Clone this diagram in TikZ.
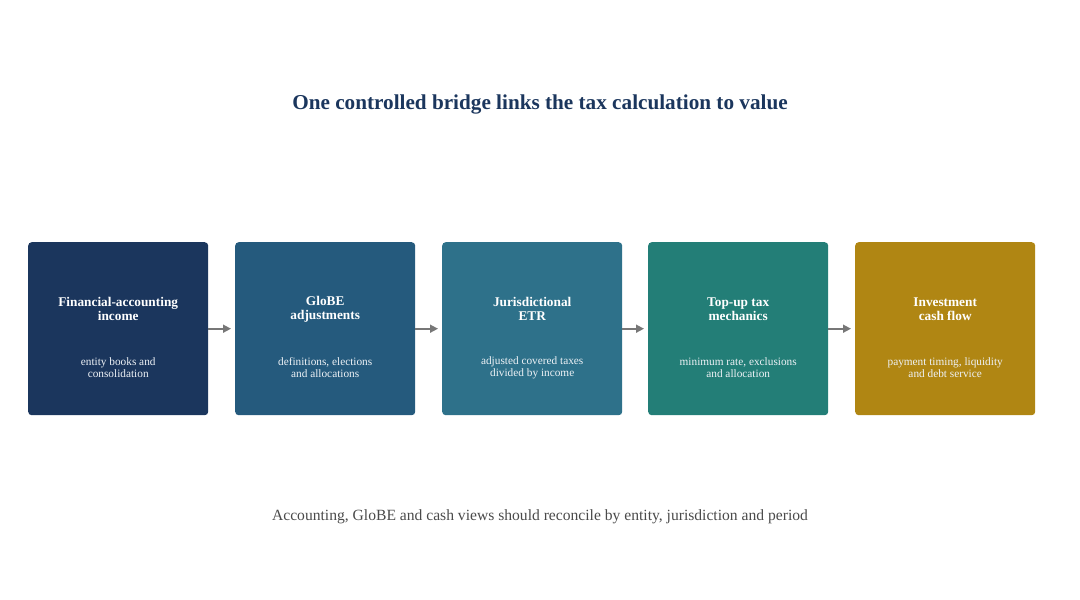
\documentclass[tikz,border=0pt]{standalone}
\usepackage{fontspec}
\setmainfont{Liberation Serif}
\usetikzlibrary{arrows.meta}
\definecolor{cA}{HTML}{1B365D}
\definecolor{cB}{HTML}{255A7D}
\definecolor{cC}{HTML}{2E718A}
\definecolor{cD}{HTML}{237E77}
\definecolor{cE}{HTML}{B08613}
\definecolor{titlec}{HTML}{1B365D}
\definecolor{footc}{HTML}{4A4A4A}
\definecolor{arrc}{HTML}{777777}
\definecolor{subc}{HTML}{EEF2F6}
\begin{document}
\begin{tikzpicture}[x=1pt,y=-1pt,
  stagebox/.style={rectangle, rounded corners=3.5pt, minimum width=180pt, minimum height=173pt, anchor=north west, inner sep=0pt, draw=none},
  stagetitle/.style={text=white, font=\fontsize{13.3}{14}\selectfont\bfseries, align=center},
  stagesub/.style={text=subc, font=\fontsize{11.3}{12}\selectfont, align=center},
  flow/.style={draw=arrc, line width=1.6pt, -{Triangle[length=8pt,width=8pt]}, shorten >=4pt}
]
\useasboundingbox (0,0) rectangle (1080,600);
\node[text=titlec, font=\fontsize{21.2}{24}\selectfont\bfseries] (title) at (540,104) {One controlled bridge links the tax calculation to value};

\node[stagebox, fill=cA] (b1) at (28,242) {};
\node[stagebox, fill=cB] (b2) at (235,242) {};
\node[stagebox, fill=cC] (b3) at (442,242) {};
\node[stagebox, fill=cD] (b4) at (648,242) {};
\node[stagebox, fill=cE] (b5) at (855,242) {};

\foreach \b/\t/\s in {b1/{Financial-accounting\\income}/{entity books and\\consolidation},
  b2/{GloBE\\adjustments}/{definitions, elections\\and allocations},
  b3/{Jurisdictional\\ETR}/{adjusted covered taxes\\divided by income},
  b4/{Top-up tax\\mechanics}/{minimum rate, exclusions\\and allocation},
  b5/{Investment\\cash flow}/{payment timing, liquidity\\and debt service}}{
  \node[stagetitle] (\b t) at ([yshift=19.5pt]\b.center) {\t};
  \node[stagesub] (\b s) at ([yshift=-39pt]\b.center) {\s};
}

\draw[flow] (b1.east) -- (b2.west);
\draw[flow] (b2.east) -- (b3.west);
\draw[flow] (b3.east) -- (b4.west);
\draw[flow] (b4.east) -- (b5.west);

\node[text=footc, font=\fontsize{15.6}{18}\selectfont] (foot) at (540,517) {Accounting, GloBE and cash views should reconcile by entity, jurisdiction and period};
\end{tikzpicture}
\end{document}
